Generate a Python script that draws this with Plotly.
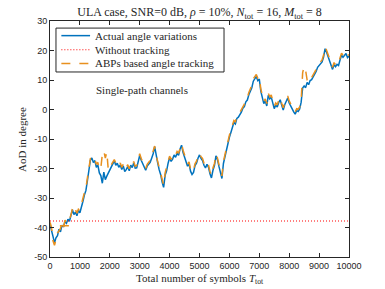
import plotly.graph_objects as go

# Symbol index grid (0 .. 10000, step 50)
symbols = list(range(0, 10001, 50))

# Actual angle variations (degrees)
actual = [
    -39.0, -41.5, -43.0, -45.2, -43.5, -42.8, -40.6, -41.5, -39.2, -39.8,
    -38.0, -38.6, -37.2, -37.9, -36.3, -34.0, -35.6, -34.8, -36.0, -34.2,
    -35.0, -32.5, -31.2, -29.0, -27.5, -24.2, -21.0, -17.2, -16.4, -18.0,
    -17.3, -19.6, -18.8, -21.5, -22.4, -25.0, -21.2, -23.8, -22.6, -21.5,
    -20.2, -19.4, -18.6, -17.4, -18.9, -18.2, -19.6, -18.8, -20.3, -19.1,
    -21.0, -20.4, -19.3, -20.8, -18.9, -19.7, -18.1, -19.9, -19.8, -17.4,
    -15.6, -17.2, -18.3, -19.5, -20.6, -19.2, -18.6, -17.9, -16.5, -15.0,
    -12.6, -16.2, -18.0, -20.4, -22.0, -24.6, -26.4, -22.3, -20.8, -18.2,
    -16.3, -17.6, -16.8, -15.4, -16.2, -14.8, -15.5, -13.4, -12.1, -14.6,
    -16.0, -17.8, -19.2, -18.4, -20.9, -22.0, -21.3, -19.0, -18.2, -16.5,
    -15.4, -16.6, -17.3, -18.9, -19.8, -18.6, -19.5, -21.8, -23.2, -20.6,
    -19.0, -15.7, -17.0, -19.3, -21.4, -23.4, -18.3, -16.0, -13.2, -11.6,
    -9.4, -7.8, -5.6, -4.4, -4.9, -3.0, -2.6, -1.8, -0.9, 0.4,
    1.0, 2.6, 3.2, 5.0, 6.1, 7.4, 9.6, 10.4, 11.2, 9.8,
    10.3, 6.2, 3.8, 2.0, 2.9, 1.2, 4.8, 3.6, 4.2, 1.9,
    0.3, 1.5, 0.8, 2.4, 3.3, 1.4, -0.2, 1.6, 3.1, 3.9,
    2.2, 0.9, 0.2, -0.8, -1.6, -0.4, -0.7, 0.2, 2.5, 7.3,
    8.0, 7.4, 9.2, 8.4, 9.8, 10.1, 11.0, 12.2, 12.9, 14.3,
    14.8, 15.6, 16.1, 17.8, 20.6, 19.4, 17.8, 16.2, 14.4, 13.6,
    15.2, 14.5, 15.3, 14.9, 16.8, 18.4, 17.7, 18.2, 19.0, 17.6,
    18.1,
]

# ABPs based angle tracking (degrees)
tracked = [
    -38.2, -40.0, -44.5, -46.0, -44.2, -41.9, -41.2, -40.3, -38.6, -40.4,
    -37.5, -38.1, -36.6, -37.2, -35.8, -33.6, -35.0, -33.9, -35.2, -33.8,
    -34.1, -31.8, -30.5, -28.2, -26.6, -23.5, -20.1, -16.6, -16.0, -17.1,
    -16.8, -18.6, -17.9, -20.4, -19.8, -15.2, -14.0, -16.5, -14.4, -20.6,
    -19.6, -18.8, -17.9, -17.0, -18.1, -17.6, -19.0, -18.1, -19.6, -18.5,
    -20.2, -19.8, -18.7, -20.1, -18.3, -19.1, -17.6, -19.2, -19.0, -16.8,
    -15.0, -16.6, -17.8, -18.8, -20.0, -18.6, -18.0, -17.2, -15.8, -14.2,
    -12.4, -15.5, -17.4, -19.8, -21.3, -23.8, -25.6, -21.5, -19.9, -17.6,
    -15.8, -16.9, -16.0, -14.8, -15.4, -14.2, -14.8, -12.8, -11.6, -13.8,
    -15.3, -17.0, -18.5, -17.8, -20.2, -21.2, -20.5, -18.4, -17.5, -15.8,
    -14.8, -16.0, -16.6, -18.2, -19.0, -17.9, -18.8, -21.0, -22.4, -19.8,
    -18.3, -15.1, -16.4, -18.6, -20.6, -22.5, -17.6, -15.2, -12.5, -10.8,
    -8.7, -7.0, -4.8, -3.7, -4.1, -2.3, -1.9, -1.0, -0.2, 1.2,
    1.8, 3.3, 4.0, 5.8, 6.9, 8.2, 10.4, 11.3, 11.9, 10.6,
    11.0, 7.0, 4.5, 2.8, 3.6, 2.0, 5.5, 4.3, 4.9, 2.6,
    1.1, 2.2, 1.6, 3.1, 4.0, 2.1, 0.6, 2.3, 3.8, 4.6,
    2.9, 1.6, 0.9, 0.0, -0.8, 0.3, 0.1, 0.9, 3.2, 12.5,
    14.6, 13.2, 10.0, 9.1, 10.5, 10.8, 11.7, 12.9, 13.6, 15.0,
    15.5, 16.3, 16.8, 18.5, 21.2, 20.1, 18.5, 16.9, 15.1, 14.3,
    15.9, 15.2, 16.0, 15.6, 17.5, 19.1, 18.4, 18.9, 19.6, 18.3,
    18.6,
]

# Short stalled tracking segment near the start
stub_symbols = [330, 725]
stub_values = [-39.4, -39.4]

# Without tracking: constant initial angle
no_track_symbols = [0, 10000]
no_track_values = [-37.8, -37.8]

x_ticks = list(range(0, 10001, 1000))
x_tick_labels = [str(v) for v in x_ticks]
y_ticks = list(range(-50, 31, 10))
y_tick_labels = [str(v) for v in y_ticks]

series_names = ["Actual angle variations", "Without tracking", "ABPs based angle tracking"]
series_colors = ["#0072BD", "#FF0000", "#E8901E"]
series_dash = ["solid", "1px,2px", "dash"]

SERIF = "Liberation Serif"
SANS = "Liberation Sans"
AX = "#262626"

fig = go.Figure()
fig.add_trace(go.Scatter(
    x=symbols, y=actual, mode="lines", name=series_names[0],
    line=dict(color=series_colors[0], width=1.5, dash=series_dash[0])))
fig.add_trace(go.Scatter(
    x=no_track_symbols, y=no_track_values, mode="lines", name=series_names[1],
    line=dict(color=series_colors[1], width=1.1, dash=series_dash[1])))
fig.add_trace(go.Scatter(
    x=symbols + [None] + stub_symbols, y=tracked + [None] + stub_values,
    mode="lines", name=series_names[2],
    line=dict(color=series_colors[2], width=1.5, dash=series_dash[2])))

axis_common = dict(
    showline=True, linecolor=AX, linewidth=1, mirror="ticks",
    ticks="inside", ticklen=4, tickcolor=AX, tickwidth=1,
    showgrid=False, zeroline=False, automargin=False,
    tickfont=dict(family=SANS, size=9, color=AX),
)

fig.update_xaxes(range=[0, 10000], tickvals=x_ticks, ticktext=x_tick_labels, **axis_common)
fig.update_yaxes(range=[-50, 30], tickvals=y_ticks, ticktext=y_tick_labels, **axis_common)

# Legend drawn as a boxed key in the upper-left corner (paper coordinates)
leg_x0, leg_x1, leg_y0, leg_y1 = 0.020, 0.582, 0.784, 0.970
row_y = [0.938, 0.878, 0.820]
sample_x0, sample_x1, text_x = 0.038, 0.134, 0.143

shapes = [dict(type="rect", xref="paper", yref="paper",
               x0=leg_x0, x1=leg_x1, y0=leg_y0, y1=leg_y1,
               line=dict(color=AX, width=1), fillcolor="white", layer="above")]
annotations = []
for name, col, dsh, ry in zip(series_names, series_colors, series_dash, row_y):
    shapes.append(dict(type="line", xref="paper", yref="paper",
                       x0=sample_x0, x1=sample_x1, y0=ry, y1=ry,
                       line=dict(color=col, width=1.5 if dsh != "1px,2px" else 1.1, dash=dsh),
                       layer="above"))
    annotations.append(dict(text=name, x=text_x, y=ry, xref="paper", yref="paper",
                            xanchor="left", yanchor="middle", showarrow=False,
                            font=dict(family=SERIF, size=11, color=AX)))

annotations.append(dict(text="Single-path channels", x=0.308, y=0.708,
                        xref="paper", yref="paper", showarrow=False,
                        xanchor="center", yanchor="middle",
                        font=dict(family=SERIF, size=11, color=AX)))
# Axis titles
annotations.append(dict(text="Total number of symbols <i>T</i><sub>tot</sub>",
                        x=0.5, y=-0.095, xref="paper", yref="paper",
                        xanchor="center", yanchor="middle", showarrow=False,
                        font=dict(family=SERIF, size=11, color=AX)))
annotations.append(dict(text="AoD in degree", textangle=-90,
                        x=-0.094, y=0.5, xref="paper", yref="paper",
                        xanchor="center", yanchor="middle", showarrow=False,
                        font=dict(family=SERIF, size=11, color=AX)))

fig.update_layout(
    width=385, height=289,
    margin=dict(l=50, r=36, t=21, b=32),
    paper_bgcolor="white", plot_bgcolor="white",
    title=dict(text="ULA case, SNR=0 dB, <i>ρ</i> = 10%, <i>N</i><sub>tot</sub> = 16, <i>M</i><sub>tot</sub> = 8",
               font=dict(family=SERIF, size=12, color=AX),
               x=0.5, xref="paper", xanchor="center", y=0.958, yanchor="middle"),
    showlegend=False,
    shapes=shapes,
    annotations=annotations,
)

fig.write_html("out.html", config={"displayModeBar": False},
               post_script="document.body.style.margin='0';")
